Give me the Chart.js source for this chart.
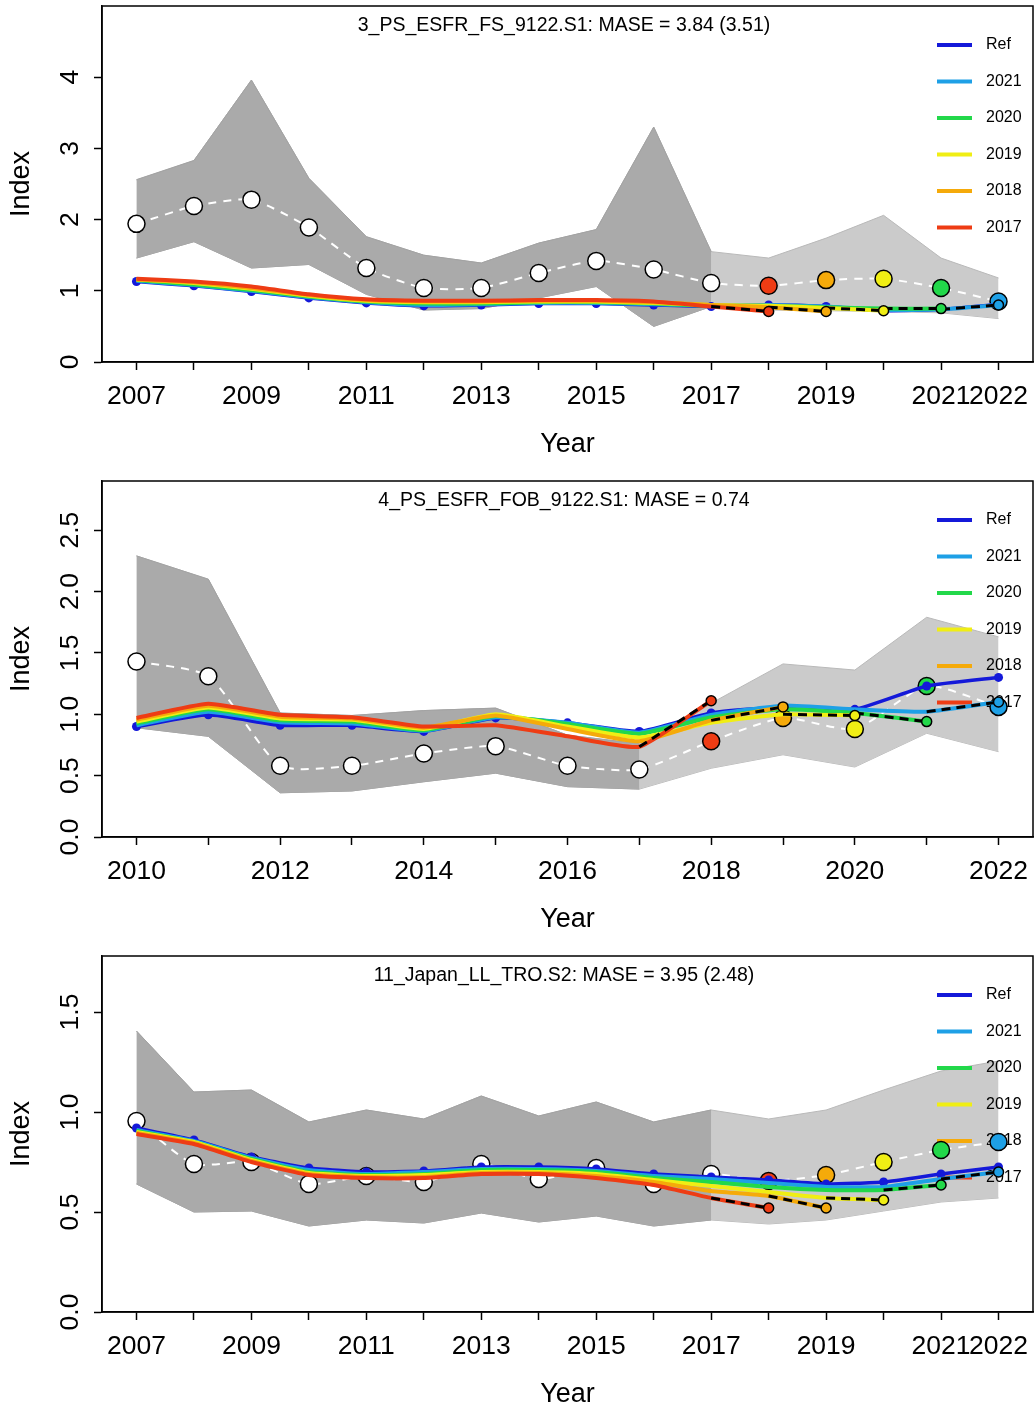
<!DOCTYPE html>
<html>
<head>
<meta charset="utf-8">
<title>Hindcast cross-validation</title>
<script src="https://cdn.jsdelivr.net/npm/chart.js@4.4.1/dist/chart.umd.min.js"></script>
<style>
  html, body { margin: 0; padding: 0; background: #fff; overflow: hidden; }
  canvas { position: absolute; left: 0; }
</style>
</head>
<body>
<canvas id="panel-fs" width="1035" height="475" style="top:0px"></canvas>
<canvas id="panel-fob" width="1035" height="475" style="top:475px"></canvas>
<canvas id="panel-ll" width="1035" height="462" style="top:950px"></canvas>
<script>
// Hindcast cross-validation per index: observed CPUE with its CI band,
// reference fit and the five one-step-ahead peels (2017-2021).

const YEARS_07 = [2007, 2008, 2009, 2010, 2011, 2012, 2013, 2014, 2015, 2016, 2017, 2018, 2019, 2020, 2021, 2022];
const YEARS_10 = [2010, 2011, 2012, 2013, 2014, 2015, 2016, 2017, 2018, 2019, 2020, 2021, 2022];
const LABELS_07 = [2007, 2009, 2011, 2013, 2015, 2017, 2019, 2021, 2022];
const LABELS_10 = [2010, 2012, 2014, 2016, 2018, 2020, 2022];

const SERIES_NAMES = ["Ref", "2021", "2020", "2019", "2018", "2017"];
const SERIES_COLORS = ["#1419d9", "#1ea0e6", "#22d84a", "#f0ee14", "#f5aa0a", "#ee3c14"];
const PEELS = [2021, 2020, 2019, 2018, 2017];
const LAST_FIT_YEAR = 2017;

// --- 3_PS_ESFR_FS_9122.S1
const fsObs   = [1.94, 2.19, 2.28, 1.89, 1.32, 1.04, 1.04, 1.25, 1.42, 1.30, 1.11, 1.07, 1.15, 1.17, 1.04, 0.85];
const fsUpper = [2.56, 2.83, 3.96, 2.58, 1.76, 1.50, 1.39, 1.67, 1.86, 3.30, 1.55, 1.46, 1.74, 2.06, 1.46, 1.18];
const fsLower = [1.46, 1.69, 1.32, 1.37, 0.95, 0.73, 0.75, 0.90, 1.06, 0.50, 0.78, 0.73, 0.72, 0.71, 0.69, 0.61];
const fsRef   = [1.13, 1.07, 0.99, 0.90, 0.83, 0.79, 0.80, 0.82, 0.82, 0.80, 0.78, 0.80, 0.78, 0.72, 0.74, 0.81];
const fsHc2021 = [1.14, 1.08, 1.00, 0.91, 0.84, 0.80, 0.81, 0.83, 0.83, 0.81, 0.79, 0.80, 0.78, 0.73, 0.74, 0.80];
const fsHc2020 = [1.15, 1.09, 1.01, 0.92, 0.85, 0.82, 0.82, 0.84, 0.84, 0.82, 0.79, 0.79, 0.77, 0.75, 0.75];
const fsHc2019 = [1.16, 1.11, 1.03, 0.93, 0.86, 0.84, 0.84, 0.85, 0.85, 0.83, 0.80, 0.79, 0.76, 0.72];
const fsHc2018 = [1.16, 1.12, 1.04, 0.94, 0.87, 0.85, 0.85, 0.86, 0.86, 0.84, 0.80, 0.77, 0.71];
const fsHc2017 = [1.17, 1.13, 1.06, 0.95, 0.88, 0.86, 0.86, 0.87, 0.87, 0.85, 0.78, 0.71];

// --- 4_PS_ESFR_FOB_9122.S1
const fobObs   = [1.43, 1.31, 0.58, 0.58, 0.68, 0.74, 0.58, 0.55, 0.78, 0.97, 0.88, 1.23, 1.06];
const fobUpper = [2.29, 2.10, 1.01, 0.99, 1.03, 1.05, 0.83, 0.76, 1.09, 1.41, 1.36, 1.79, 1.63];
const fobLower = [0.89, 0.82, 0.36, 0.375, 0.45, 0.52, 0.41, 0.39, 0.56, 0.67, 0.57, 0.845, 0.695];
const fobRef   = [0.90, 0.995, 0.91, 0.91, 0.86, 0.97, 0.93, 0.86, 1.01, 1.06, 1.04, 1.23, 1.30];
const fobHc2021 = [0.91, 1.02, 0.935, 0.925, 0.865, 0.975, 0.93, 0.85, 0.995, 1.07, 1.04, 1.02, 1.10];
const fobHc2020 = [0.925, 1.04, 0.95, 0.94, 0.87, 0.985, 0.92, 0.84, 0.975, 1.04, 1.01, 0.94];
const fobHc2019 = [0.94, 1.055, 0.965, 0.955, 0.88, 1.00, 0.90, 0.81, 0.93, 1.00, 0.99];
const fobHc2018 = [0.955, 1.07, 0.98, 0.965, 0.89, 0.99, 0.88, 0.78, 0.95, 1.06];
const fobHc2017 = [0.97, 1.085, 0.995, 0.975, 0.90, 0.91, 0.82, 0.735, 1.11];

// --- 11_Japan_LL_TRO.S2
const llObs   = [0.955, 0.74, 0.75, 0.64, 0.68, 0.65, 0.74, 0.665, 0.72, 0.64, 0.69, 0.655, 0.685, 0.75, 0.81, 0.85];
const llUpper = [1.405, 1.10, 1.11, 0.95, 1.01, 0.965, 1.08, 0.98, 1.05, 0.95, 1.01, 0.965, 1.01, 1.11, 1.205, 1.255];
const llLower = [0.64, 0.50, 0.505, 0.43, 0.46, 0.445, 0.495, 0.45, 0.48, 0.43, 0.46, 0.44, 0.46, 0.505, 0.55, 0.57];
const llRef   = [0.92, 0.86, 0.775, 0.72, 0.70, 0.705, 0.725, 0.725, 0.715, 0.69, 0.675, 0.66, 0.64, 0.65, 0.69, 0.725];
const llHc2021 = [0.91, 0.855, 0.77, 0.71, 0.69, 0.70, 0.715, 0.715, 0.705, 0.68, 0.665, 0.645, 0.625, 0.625, 0.665, 0.70];
const llHc2020 = [0.905, 0.85, 0.765, 0.70, 0.685, 0.69, 0.71, 0.71, 0.70, 0.67, 0.65, 0.625, 0.61, 0.61, 0.635];
const llHc2019 = [0.90, 0.85, 0.76, 0.695, 0.68, 0.685, 0.70, 0.70, 0.69, 0.66, 0.63, 0.60, 0.57, 0.56];
const llHc2018 = [0.895, 0.845, 0.755, 0.69, 0.675, 0.675, 0.695, 0.695, 0.68, 0.65, 0.605, 0.58, 0.52];
const llHc2017 = [0.89, 0.84, 0.75, 0.685, 0.67, 0.67, 0.69, 0.69, 0.67, 0.635, 0.57, 0.52];

const FONT = "'Liberation Sans', Arial, Helvetica, sans-serif";
const BAND_LIGHT = "#cbcbcb";
const BAND_DARK = "#aaaaaa";

Chart.defaults.font.family = FONT;
Chart.defaults.color = "#000";

// ============================================================
// decorations: box, legend, rotated y labels, titles
// ============================================================
function decorPlugin(p) {
  return {
    id: "decor",
    afterDatasetDraw(chart, args) {
      if (!chart.data.datasets[args.index].legendAfter) return;
      const { ctx, chartArea } = chart;
      ctx.save();
      ctx.font = `16px ${FONT}`;
      ctx.textBaseline = "middle";
      ctx.textAlign = "left";
      SERIES_NAMES.forEach((name, i) => {
        const y = chartArea.top + 39 + i * 36.5;
        ctx.strokeStyle = SERIES_COLORS[i];
        ctx.lineWidth = 4;
        ctx.beginPath();
        ctx.moveTo(chartArea.right - 96, y);
        ctx.lineTo(chartArea.right - 61, y);
        ctx.stroke();
        ctx.fillStyle = "#000";
        ctx.fillText(name, chartArea.right - 47, y);
      });
      ctx.restore();
    },
    afterDraw(chart) {
      const { ctx, chartArea } = chart;
      const yScale = chart.scales.y;
      ctx.save();
      ctx.strokeStyle = "#000";
      ctx.lineWidth = 1.5;
      ctx.strokeRect(chartArea.left, chartArea.top, chartArea.right - chartArea.left, chartArea.bottom - chartArea.top);

      ctx.fillStyle = "#000";
      ctx.textAlign = "center";
      ctx.textBaseline = "middle";
      ctx.font = `26.5px ${FONT}`;
      p.yTicks.forEach((v, i) => {
        ctx.save();
        ctx.translate(71, yScale.getPixelForValue(v));
        ctx.rotate(-Math.PI / 2);
        ctx.fillText(p.yLabels[i], 0, 0);
        ctx.restore();
      });

      ctx.font = `27px ${FONT}`;
      ctx.fillText("Year", (chartArea.left + chartArea.right) / 2, chartArea.bottom + 83);
      ctx.save();
      ctx.translate(22, (chartArea.top + chartArea.bottom) / 2);
      ctx.rotate(-Math.PI / 2);
      ctx.fillText("Index", 0, 0);
      ctx.restore();

      ctx.font = `19.5px ${FONT}`;
      ctx.fillText(p.title, 564, chartArea.top + 20);
      ctx.restore();
    },
  };
}

// ============================================================
// one panel
// ============================================================
function drawPanel(canvasId, p) {
  const canvas = document.getElementById(canvasId);
  const H = canvas.height;
  const xy = (vals) => vals.map((v, i) => ({ x: p.years[i], y: v }));
  const fitIdx = p.years.map((_, i) => i).filter((i) => p.years[i] <= LAST_FIT_YEAR);
  const valIdx = p.years.map((_, i) => i).filter((i) => p.years[i] > LAST_FIT_YEAR);
  const pick = (vals, idx) => idx.map((i) => ({ x: p.years[i], y: vals[i] }));
  // colour of the peel that predicts a given year
  const peelColor = (yr) => SERIES_COLORS[SERIES_NAMES.indexOf(String(yr - 1))];

  const datasets = [
    { data: xy(p.upper), fill: "+1", backgroundColor: BAND_LIGHT, borderColor: "#b9b9b9", borderWidth: 1, pointRadius: 0, order: 20 },
    { data: xy(p.lower), fill: false, borderColor: "#b9b9b9", borderWidth: 1, pointRadius: 0, order: 20.5 },
    { data: pick(p.upper, fitIdx), fill: "+1", backgroundColor: BAND_DARK, borderColor: "#a2a2a2", borderWidth: 1, pointRadius: 0, order: 18, legendAfter: true },
    { data: pick(p.lower, fitIdx), fill: false, borderColor: "#a2a2a2", borderWidth: 1, pointRadius: 0, order: 18.5 },
    { data: xy(p.obs), borderColor: "#fff", borderWidth: 2, borderDash: [8, 7], tension: 0.2, pointRadius: 0, order: 15 },
    { data: pick(p.obs, fitIdx), showLine: false, pointRadius: 8.5, pointBackgroundColor: "#fff", pointBorderColor: "#000", pointBorderWidth: 1.5, order: 14 },
    {
      data: pick(p.obs, valIdx), showLine: false, pointRadius: 8.5,
      pointBackgroundColor: valIdx.map((i) => peelColor(p.years[i])),
      pointBorderColor: "#000", pointBorderWidth: 1.5, order: 13,
    },
    {
      data: xy(p.ref), borderColor: SERIES_COLORS[0], borderWidth: 3.5, tension: 0.15,
      pointRadius: 4.5, pointBackgroundColor: SERIES_COLORS[0], pointBorderWidth: 0, order: 12,
    },
  ];

  const preds = [];
  PEELS.forEach((peel, k) => {
    const hc = p.hindcasts[peel];
    const color = SERIES_COLORS[k + 1];
    datasets.push({ data: xy(hc), borderColor: color, borderWidth: 4, tension: 0.15, pointRadius: 0, order: 11 - k * 0.1 });
    const last = hc.length - 1;
    datasets.push({
      data: [{ x: p.years[last - 1], y: hc[last - 1] }, { x: p.years[last], y: hc[last] }],
      borderColor: "#000", borderWidth: 3, borderDash: [9, 6], pointRadius: 0, order: 5,
    });
    preds.push({ x: p.years[last], y: hc[last], color });
  });
  datasets.push({
    data: preds.map(({ x, y }) => ({ x, y })), showLine: false, pointRadius: 5,
    pointBackgroundColor: preds.map((d) => d.color), pointBorderColor: "#000", pointBorderWidth: 1.5, order: 4,
  });

  const axisLine = { color: "#000", width: 1.5 };
  const gridTicks = { drawOnChartArea: false, drawTicks: true, tickLength: 8, tickColor: "#000", tickWidth: 1.5 };

  new Chart(canvas, {
    type: "line",
    data: { datasets },
    options: {
      responsive: false,
      animation: false,
      devicePixelRatio: 1,
      layout: { autoPadding: false, padding: { top: 6, right: 2, left: 0, bottom: 0 } },
      plugins: { legend: { display: false }, tooltip: { enabled: false } },
      scales: {
        x: {
          type: "linear",
          min: p.xMin,
          max: p.xMax,
          afterBuildTicks: (s) => { s.ticks = p.years.map((v) => ({ value: v })); },
          afterFit: (s) => { s.height = H - 362; s.paddingLeft = 0; s.paddingRight = 0; },
          ticks: {
            autoSkip: false, maxRotation: 0, minRotation: 0, padding: 11,
            color: "#000", font: { size: 26.5 },
            callback: (v) => (p.xLabels.includes(v) ? String(v) : ""),
          },
          grid: gridTicks,
          border: axisLine,
        },
        y: {
          type: "linear",
          min: 0,
          max: p.yMax,
          afterBuildTicks: (s) => { s.ticks = p.yTicks.map((v) => ({ value: v })); },
          afterFit: (s) => { s.width = 102; s.paddingTop = 0; s.paddingBottom = 0; },
          ticks: { display: false },
          grid: gridTicks,
          border: axisLine,
        },
      },
    },
    plugins: [decorPlugin(p)],
  });
}

drawPanel("panel-fs", {
  title: "3_PS_ESFR_FS_9122.S1: MASE = 3.84 (3.51)",
  years: YEARS_07, xLabels: LABELS_07, xMin: 2006.4, xMax: 2022.6,
  yMax: 5.0, yTicks: [0, 1, 2, 3, 4], yLabels: ["0", "1", "2", "3", "4"],
  obs: fsObs, upper: fsUpper, lower: fsLower, ref: fsRef,
  hindcasts: { 2021: fsHc2021, 2020: fsHc2020, 2019: fsHc2019, 2018: fsHc2018, 2017: fsHc2017 },
});

drawPanel("panel-fob", {
  title: "4_PS_ESFR_FOB_9122.S1: MASE = 0.74",
  years: YEARS_10, xLabels: LABELS_10, xMin: 2009.52, xMax: 2022.48,
  yMax: 2.9, yTicks: [0, 0.5, 1, 1.5, 2, 2.5], yLabels: ["0.0", "0.5", "1.0", "1.5", "2.0", "2.5"],
  obs: fobObs, upper: fobUpper, lower: fobLower, ref: fobRef,
  hindcasts: { 2021: fobHc2021, 2020: fobHc2020, 2019: fobHc2019, 2018: fobHc2018, 2017: fobHc2017 },
});

drawPanel("panel-ll", {
  title: "11_Japan_LL_TRO.S2: MASE = 3.95 (2.48)",
  years: YEARS_07, xLabels: LABELS_07, xMin: 2006.4, xMax: 2022.6,
  yMax: 1.78, yTicks: [0, 0.5, 1, 1.5], yLabels: ["0.0", "0.5", "1.0", "1.5"],
  obs: llObs, upper: llUpper, lower: llLower, ref: llRef,
  hindcasts: { 2021: llHc2021, 2020: llHc2020, 2019: llHc2019, 2018: llHc2018, 2017: llHc2017 },
});
</script>
</body>
</html>
